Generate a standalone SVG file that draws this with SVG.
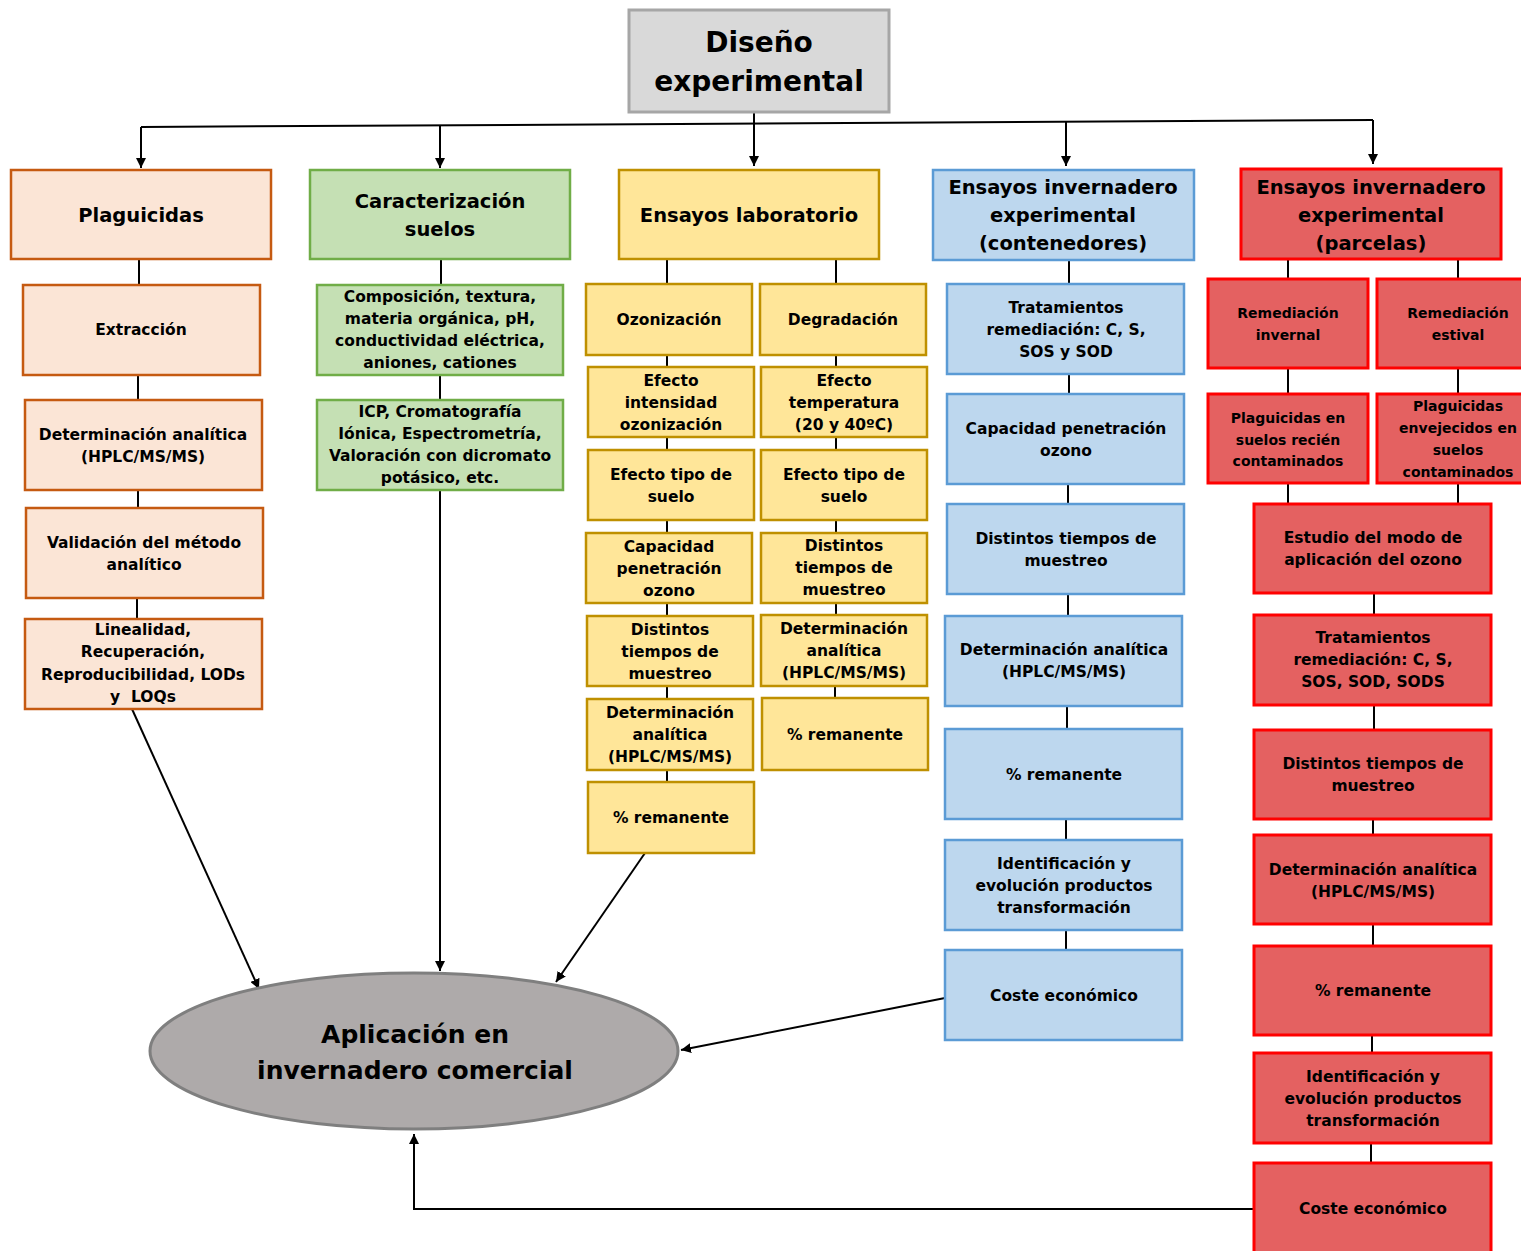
<svg xmlns="http://www.w3.org/2000/svg" width="1521" height="1251" viewBox="0 0 1521 1251">
<defs>
<marker id="arr" viewBox="0 0 10 10" refX="10" refY="5" markerWidth="10" markerHeight="10" markerUnits="userSpaceOnUse" orient="auto">
<path d="M0,0 L10,5 L0,10 z" fill="#000"/>
</marker>
<style>
text{font-family:"DejaVu Sans","Liberation Sans",sans-serif;font-weight:bold;fill:#000;text-anchor:middle;dominant-baseline:central}
.s{font-size:15.5px}
.r{font-size:14px}
.h{font-size:19.5px}
.or{fill:#fbe5d6;stroke:#c55a11;stroke-width:2.5}
.gr{fill:#c5e0b4;stroke:#70ad47;stroke-width:2.5}
.ye{fill:#ffe699;stroke:#bf9000;stroke-width:2.5}
.bl{fill:#bdd7ee;stroke:#5b9bd5;stroke-width:2.5}
.rd{fill:#e46161;stroke:#ff0000;stroke-width:3}
.c line,.c path,.c polyline{stroke:#000;stroke-width:2;fill:none}
</style>
</defs>
<rect width="1521" height="1251" fill="#fff"/>

<g class="c" id="connectors">
<line x1="754" y1="112" x2="754" y2="122"/>
<line x1="141" y1="127" x2="1373" y2="120"/>
<line x1="141" y1="127" x2="141" y2="168" marker-end="url(#arr)"/>
<line x1="440" y1="126" x2="440" y2="168" marker-end="url(#arr)"/>
<line x1="754" y1="122" x2="754" y2="166" marker-end="url(#arr)"/>
<line x1="1066" y1="121" x2="1066" y2="166" marker-end="url(#arr)"/>
<line x1="1373" y1="120" x2="1373" y2="164" marker-end="url(#arr)"/>
<line x1="139" y1="259" x2="139" y2="285"/>
<line x1="138" y1="375" x2="138" y2="400"/>
<line x1="138" y1="490" x2="138" y2="508"/>
<line x1="137" y1="598" x2="137" y2="619"/>
<line x1="132" y1="709" x2="259" y2="989" marker-end="url(#arr)"/>
<line x1="441" y1="259" x2="441" y2="285"/>
<line x1="440" y1="375" x2="440" y2="400"/>
<line x1="440" y1="490" x2="440" y2="971" marker-end="url(#arr)"/>
<line x1="667" y1="259" x2="667" y2="284"/>
<line x1="836" y1="259" x2="836" y2="284"/>
<line x1="667" y1="355" x2="667" y2="367"/>
<line x1="667" y1="437" x2="667" y2="450"/>
<line x1="667" y1="520" x2="667" y2="533"/>
<line x1="667" y1="603" x2="667" y2="616"/>
<line x1="667" y1="686" x2="667" y2="699"/>
<line x1="667" y1="770" x2="667" y2="782"/>
<line x1="836" y1="355" x2="836" y2="367"/>
<line x1="836" y1="437" x2="836" y2="450"/>
<line x1="836" y1="520" x2="836" y2="533"/>
<line x1="836" y1="603" x2="836" y2="615"/>
<line x1="835" y1="686" x2="835" y2="698"/>
<line x1="645" y1="853" x2="556" y2="982" marker-end="url(#arr)"/>
<line x1="1069" y1="260" x2="1069" y2="284"/>
<line x1="1069" y1="374" x2="1069" y2="394"/>
<line x1="1068" y1="484" x2="1068" y2="504"/>
<line x1="1068" y1="594" x2="1068" y2="616"/>
<line x1="1067" y1="706" x2="1067" y2="729"/>
<line x1="1066" y1="819" x2="1066" y2="840"/>
<line x1="1066" y1="930" x2="1066" y2="950"/>
<line x1="945" y1="998" x2="681" y2="1050" marker-end="url(#arr)"/>
<line x1="1288" y1="259" x2="1288" y2="279"/>
<line x1="1458" y1="259" x2="1458" y2="279"/>
<line x1="1288" y1="368" x2="1288" y2="394"/>
<line x1="1458" y1="368" x2="1458" y2="394"/>
<line x1="1288" y1="483" x2="1288" y2="504"/>
<line x1="1458" y1="483" x2="1458" y2="504"/>
<line x1="1374" y1="593" x2="1374" y2="615"/>
<line x1="1374" y1="705" x2="1374" y2="730"/>
<line x1="1373" y1="819" x2="1373" y2="835"/>
<line x1="1373" y1="924" x2="1373" y2="946"/>
<line x1="1372" y1="1035" x2="1372" y2="1053"/>
<line x1="1371" y1="1143" x2="1371" y2="1163"/>
<polyline points="1254,1209 414,1209 414,1134" marker-end="url(#arr)"/>
</g>

<g id="diseno">
<rect x="629" y="10" width="260" height="102" fill="#d9d9d9" stroke="#a6a6a6" stroke-width="3"/>
<text x="759" y="42" style="font-size:28px">Diseño</text>
<text x="759" y="81" style="font-size:28px">experimental</text>
</g>

<g id="plaguicidas"><rect class="or" x="11" y="170" width="260" height="89"/><text class="h" x="141" y="215">Plaguicidas</text></g>
<g id="extraccion"><rect class="or" x="23" y="285" width="237" height="90"/><text class="s" x="141" y="330">Extracción</text></g>
<g id="determinacion1"><rect class="or" x="25" y="400" width="237" height="90"/><text class="s" x="143" y="435">Determinación analítica</text><text class="s" x="143" y="457">(HPLC/MS/MS)</text></g>
<g id="validacion"><rect class="or" x="26" y="508" width="237" height="90"/><text class="s" x="144" y="543">Validación del método</text><text class="s" x="144" y="565">analítico</text></g>
<g id="linealidad"><rect class="or" x="25" y="619" width="237" height="90"/><text class="s" x="143" y="630">Linealidad,</text><text class="s" x="143" y="652">Recuperación,</text><text class="s" x="143" y="675">Reproducibilidad, LODs</text><text class="s" x="143" y="697">y&#160; LOQs</text></g>

<g id="caracterizacion"><rect class="gr" x="310" y="170" width="260" height="89"/><text class="h" x="440" y="201">Caracterización</text><text class="h" x="440" y="229">suelos</text></g>
<g id="composicion"><rect class="gr" x="317" y="285" width="246" height="90"/><text class="s" x="440" y="297">Composición, textura,</text><text class="s" x="440" y="319">materia orgánica, pH,</text><text class="s" x="440" y="341">conductividad eléctrica,</text><text class="s" x="440" y="363">aniones, cationes</text></g>
<g id="icp"><rect class="gr" x="317" y="400" width="246" height="90"/><text class="s" x="440" y="412">ICP, Cromatografía</text><text class="s" x="440" y="434">Iónica, Espectrometría,</text><text class="s" x="440" y="456">Valoración con dicromato</text><text class="s" x="440" y="478">potásico, etc.</text></g>

<g id="laboratorio"><rect class="ye" x="619" y="170" width="260" height="89"/><text class="h" x="749" y="215">Ensayos laboratorio</text></g>
<g id="ozonizacion"><rect class="ye" x="586" y="284" width="166" height="71"/><text class="s" x="669" y="320">Ozonización</text></g>
<g id="degradacion"><rect class="ye" x="760" y="284" width="166" height="71"/><text class="s" x="843" y="320">Degradación</text></g>
<g id="efecto-intensidad"><rect class="ye" x="588" y="367" width="166" height="70"/><text class="s" x="671" y="381">Efecto</text><text class="s" x="671" y="403">intensidad</text><text class="s" x="671" y="425">ozonización</text></g>
<g id="efecto-temperatura"><rect class="ye" x="761" y="367" width="166" height="70"/><text class="s" x="844" y="381">Efecto</text><text class="s" x="844" y="403">temperatura</text><text class="s" x="844" y="425">(20 y 40ºC)</text></g>
<g id="efecto-suelo-l"><rect class="ye" x="588" y="450" width="166" height="70"/><text class="s" x="671" y="475">Efecto tipo de</text><text class="s" x="671" y="497">suelo</text></g>
<g id="efecto-suelo-r"><rect class="ye" x="761" y="450" width="166" height="70"/><text class="s" x="844" y="475">Efecto tipo de</text><text class="s" x="844" y="497">suelo</text></g>
<g id="capacidad-l"><rect class="ye" x="586" y="533" width="166" height="70"/><text class="s" x="669" y="547">Capacidad</text><text class="s" x="669" y="569">penetración</text><text class="s" x="669" y="591">ozono</text></g>
<g id="distintos-r"><rect class="ye" x="761" y="533" width="166" height="70"/><text class="s" x="844" y="546">Distintos</text><text class="s" x="844" y="568">tiempos de</text><text class="s" x="844" y="590">muestreo</text></g>
<g id="distintos-l"><rect class="ye" x="587" y="616" width="166" height="70"/><text class="s" x="670" y="630">Distintos</text><text class="s" x="670" y="652">tiempos de</text><text class="s" x="670" y="674">muestreo</text></g>
<g id="determinacion-r"><rect class="ye" x="761" y="615" width="166" height="71"/><text class="s" x="844" y="629">Determinación</text><text class="s" x="844" y="651">analítica</text><text class="s" x="844" y="673">(HPLC/MS/MS)</text></g>
<g id="determinacion-l"><rect class="ye" x="587" y="699" width="166" height="71"/><text class="s" x="670" y="713">Determinación</text><text class="s" x="670" y="735">analítica</text><text class="s" x="670" y="757">(HPLC/MS/MS)</text></g>
<g id="remanente-r"><rect class="ye" x="762" y="698" width="166" height="72"/><text class="s" x="845" y="735">% remanente</text></g>
<g id="remanente-l"><rect class="ye" x="588" y="782" width="166" height="71"/><text class="s" x="671" y="818">% remanente</text></g>

<g id="contenedores"><rect class="bl" x="933" y="170" width="261" height="90"/><text class="h" x="1063" y="187">Ensayos invernadero</text><text class="h" x="1063" y="215">experimental</text><text class="h" x="1063" y="243">(contenedores)</text></g>
<g id="tratamientos-b"><rect class="bl" x="947" y="284" width="237" height="90"/><text class="s" x="1066" y="308">Tratamientos</text><text class="s" x="1066" y="330">remediación: C, S,</text><text class="s" x="1066" y="352">SOS y SOD</text></g>
<g id="capacidad-b"><rect class="bl" x="947" y="394" width="237" height="90"/><text class="s" x="1066" y="429">Capacidad penetración</text><text class="s" x="1066" y="451">ozono</text></g>
<g id="distintos-b"><rect class="bl" x="947" y="504" width="237" height="90"/><text class="s" x="1066" y="539">Distintos tiempos de</text><text class="s" x="1066" y="561">muestreo</text></g>
<g id="determinacion-b"><rect class="bl" x="945" y="616" width="237" height="90"/><text class="s" x="1064" y="650">Determinación analítica</text><text class="s" x="1064" y="672">(HPLC/MS/MS)</text></g>
<g id="remanente-b"><rect class="bl" x="945" y="729" width="237" height="90"/><text class="s" x="1064" y="775">% remanente</text></g>
<g id="identificacion-b"><rect class="bl" x="945" y="840" width="237" height="90"/><text class="s" x="1064" y="864">Identificación y</text><text class="s" x="1064" y="886">evolución productos</text><text class="s" x="1064" y="908">transformación</text></g>
<g id="coste-b"><rect class="bl" x="945" y="950" width="237" height="90"/><text class="s" x="1064" y="996">Coste económico</text></g>

<g id="parcelas"><rect class="rd" x="1241" y="169" width="260" height="90"/><text class="h" x="1371" y="187">Ensayos invernadero</text><text class="h" x="1371" y="215">experimental</text><text class="h" x="1371" y="243">(parcelas)</text></g>
<g id="invernal"><rect class="rd" x="1208" y="279" width="160" height="89"/><text class="r" x="1288" y="313">Remediación</text><text class="r" x="1288" y="335">invernal</text></g>
<g id="estival"><rect class="rd" x="1377" y="279" width="150" height="89"/><text class="r" x="1458" y="313">Remediación</text><text class="r" x="1458" y="335">estival</text></g>
<g id="recien"><rect class="rd" x="1208" y="394" width="160" height="89"/><text class="r" x="1288" y="418">Plaguicidas en</text><text class="r" x="1288" y="440">suelos recién</text><text class="r" x="1288" y="461">contaminados</text></g>
<g id="envejecidos"><rect class="rd" x="1377" y="394" width="150" height="89"/><text class="r" x="1458" y="406">Plaguicidas</text><text class="r" x="1458" y="428">envejecidos en</text><text class="r" x="1458" y="450">suelos</text><text class="r" x="1458" y="472">contaminados</text></g>
<g id="estudio"><rect class="rd" x="1254" y="504" width="237" height="89"/><text class="s" x="1373" y="538">Estudio del modo de</text><text class="s" x="1373" y="560">aplicación del ozono</text></g>
<g id="tratamientos-r"><rect class="rd" x="1254" y="615" width="237" height="90"/><text class="s" x="1373" y="638">Tratamientos</text><text class="s" x="1373" y="660">remediación: C, S,</text><text class="s" x="1373" y="682">SOS, SOD, SODS</text></g>
<g id="distintos-rd"><rect class="rd" x="1254" y="730" width="237" height="89"/><text class="s" x="1373" y="764">Distintos tiempos de</text><text class="s" x="1373" y="786">muestreo</text></g>
<g id="determinacion-rd"><rect class="rd" x="1254" y="835" width="237" height="89"/><text class="s" x="1373" y="870">Determinación analítica</text><text class="s" x="1373" y="892">(HPLC/MS/MS)</text></g>
<g id="remanente-rd"><rect class="rd" x="1254" y="946" width="237" height="89"/><text class="s" x="1373" y="991">% remanente</text></g>
<g id="identificacion-rd"><rect class="rd" x="1254" y="1053" width="237" height="90"/><text class="s" x="1373" y="1077">Identificación y</text><text class="s" x="1373" y="1099">evolución productos</text><text class="s" x="1373" y="1121">transformación</text></g>
<g id="coste-rd"><rect class="rd" x="1254" y="1163" width="237" height="92"/><text class="s" x="1373" y="1209">Coste económico</text></g>

<g id="aplicacion">
<ellipse cx="414" cy="1051" rx="264" ry="78" fill="#aeaaaa" stroke="#7f7f7f" stroke-width="3"/>
<text x="415" y="1034" style="font-size:25px">Aplicación en</text>
<text x="415" y="1070" style="font-size:25px">invernadero comercial</text>
</g>
</svg>
